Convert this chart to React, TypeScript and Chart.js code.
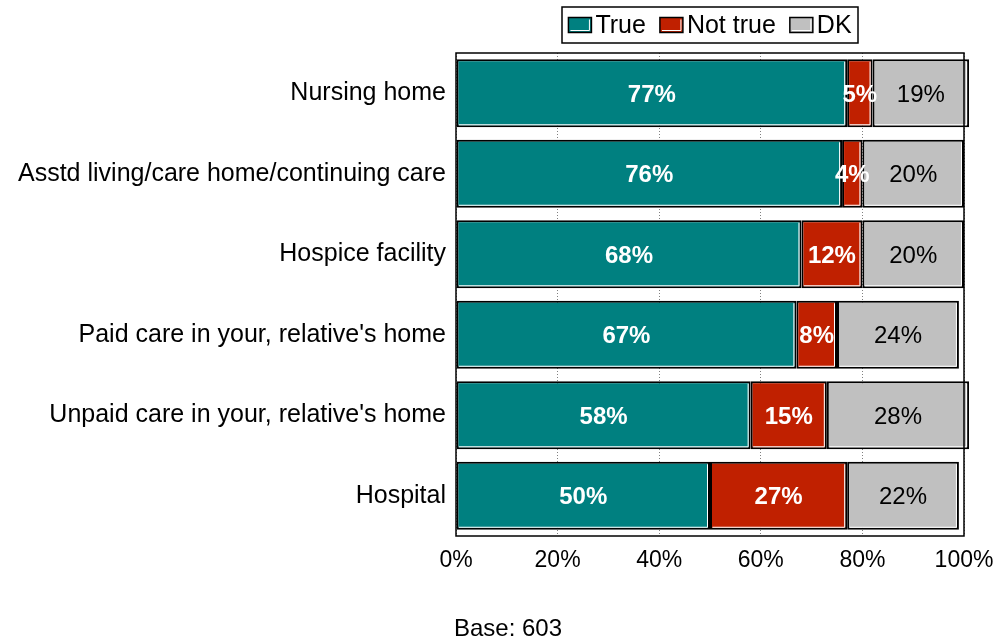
import React, { useEffect, useRef } from "react";
import { Chart, registerables } from "chart.js";

Chart.register(...registerables);

const categories = [
  "Nursing home",
  "Asstd living/care home/continuing care",
  "Hospice facility",
  "Paid care in your, relative's home",
  "Unpaid care in your, relative's home",
  "Hospital",
];
const trueValues = [77, 76, 68, 67, 58, 50];
const notTrueValues = [5, 4, 12, 8, 15, 27];
const dkValues = [19, 20, 20, 24, 28, 22];
const seriesNames = ["True", "Not true", "DK"];
const seriesColors = ["#008080", "#C02000", "#C0C0C0"];
const labelColors = ["#FFFFFF", "#FFFFFF", "#000000"];
const labelBold = [true, true, false];
const baseNote = "Base: 603";

const FONT = "'Liberation Sans', Arial, sans-serif";

const framePlugin = {
  id: "frame",
  afterDatasetsDraw(chart: any) {
    const { ctx, chartArea } = chart;
    ctx.save();
    chart.data.datasets.forEach((ds: any, di: number) => {
      const meta = chart.getDatasetMeta(di);
      meta.data.forEach((el: any) => {
        const left = Math.min(el.x, el.base);
        const right = Math.max(el.x, el.base);
        const top = el.y - el.height / 2;
        const bottom = el.y + el.height / 2;
        ctx.strokeStyle = "#FFFFFF";
        ctx.lineWidth = 1;
        ctx.beginPath();
        ctx.moveTo(left + 2.5, bottom - 2.5);
        ctx.lineTo(right - 2.5, bottom - 2.5);
        ctx.lineTo(right - 2.5, top + 2.5);
        ctx.stroke();
      });
    });
    ctx.restore();

    ctx.save();
    ctx.strokeStyle = "#000000";
    ctx.lineWidth = 1.5;
    ctx.strokeRect(
      chartArea.left,
      chartArea.top,
      chartArea.right - chartArea.left,
      chartArea.bottom - chartArea.top
    );
    ctx.restore();

    ctx.save();
    ctx.textAlign = "center";
    ctx.textBaseline = "middle";
    chart.data.datasets.forEach((ds: any, di: number) => {
      const meta = chart.getDatasetMeta(di);
      ctx.fillStyle = labelColors[di];
      ctx.font = (labelBold[di] ? "bold " : "") + "24px " + FONT;
      meta.data.forEach((el: any, i: number) => {
        const v = ds.data[i];
        const cx = (el.x + el.base) / 2;
        ctx.fillText(v + "%", cx, el.y + 2);
      });
    });
    ctx.restore();
  },
  afterDraw(chart: any) {
    const { ctx, chartArea } = chart;
    ctx.save();
    ctx.font = "25px " + FONT;
    ctx.textBaseline = "middle";
    const sw = 23;
    const sh = 15;
    const gapText = 4;
    const itemGap = 14;
    const widths = seriesNames.map((n) => ctx.measureText(n).width);
    const total =
      widths.reduce((a, w) => a + sw + gapText + w, 0) + itemGap * (seriesNames.length - 1);
    const boxW = 296;
    const boxH = 36;
    const cx = (chartArea.left + chartArea.right) / 2;
    const boxX = cx - boxW / 2;
    const boxY = 7;
    ctx.fillStyle = "#FFFFFF";
    ctx.fillRect(boxX, boxY, boxW, boxH);
    ctx.strokeStyle = "#000000";
    ctx.lineWidth = 1.5;
    ctx.strokeRect(boxX, boxY, boxW, boxH);
    let x = cx - total / 2;
    const cy = boxY + boxH / 2;
    seriesNames.forEach((n, i) => {
      ctx.fillStyle = seriesColors[i];
      ctx.fillRect(x, cy - sh / 2, sw, sh);
      ctx.strokeStyle = "#000000";
      ctx.lineWidth = 1.5;
      ctx.strokeRect(x, cy - sh / 2, sw, sh);
      ctx.strokeStyle = "#FFFFFF";
      ctx.lineWidth = 1;
      ctx.beginPath();
      ctx.moveTo(x + 2, cy + sh / 2 - 2);
      ctx.lineTo(x + sw - 2, cy + sh / 2 - 2);
      ctx.lineTo(x + sw - 2, cy - sh / 2 + 2);
      ctx.stroke();
      ctx.fillStyle = "#000000";
      ctx.textAlign = "left";
      ctx.fillText(n, x + sw + gapText, cy + 1);
      x += sw + gapText + widths[i] + itemGap;
    });

    ctx.font = "24px " + FONT;
    ctx.textAlign = "center";
    ctx.fillStyle = "#000000";
    ctx.fillText(baseNote, 508, 629);
    ctx.restore();
  },
};

export default function App() {
  const ref = useRef<HTMLCanvasElement | null>(null);
  useEffect(() => {
    if (!ref.current) return;
    const values = [trueValues, notTrueValues, dkValues];
    const chart = new Chart(ref.current, {
      type: "bar",
      data: {
        labels: categories,
        datasets: seriesNames.map((name, i) => ({
          label: name,
          data: values[i],
          backgroundColor: seriesColors[i],
          borderColor: "#000000",
          borderWidth: 2,
          borderSkipped: false,
          clip: false as any,
          barPercentage: 0.845,
          categoryPercentage: 1,
        })),
      },
      options: {
        indexAxis: "y",
        animation: false,
        responsive: false,
        maintainAspectRatio: false,
        layout: { padding: { top: 53, right: 33, left: 0, bottom: 0 } },
        plugins: {
          legend: { display: false },
          title: { display: false },
          tooltip: { enabled: false },
        },
        scales: {
          x: {
            stacked: true,
            min: 0,
            max: 100,
            afterFit: (s: any) => {
              s.height = 105;
              s.paddingLeft = 0;
              s.paddingRight = 0;
            },
            ticks: {
              stepSize: 20,
              callback: (v: any) => v + "%",
              color: "#000000",
              font: { family: FONT, size: 23 },
              padding: 11,
              maxRotation: 0,
            },
            grid: { color: "#808080", lineWidth: 1, drawTicks: false },
            border: { display: false, dash: [1, 2] },
          },
          y: {
            stacked: true,
            afterFit: (s: any) => {
              s.width = 456;
              s.paddingTop = 0;
              s.paddingBottom = 0;
            },
            ticks: {
              color: "#000000",
              font: { family: FONT, size: 25 },
              padding: 10,
            },
            grid: { display: false, drawTicks: false },
            border: { display: false },
          },
        },
      },
      plugins: [framePlugin],
    });
    return () => chart.destroy();
  }, []);
  return (
    <div style={{ position: "fixed", left: 0, top: 0, width: 997, height: 641, background: "#fff" }}>
      <canvas ref={ref} width={997} height={641} style={{ width: 997, height: 641 }} />
    </div>
  );
}
